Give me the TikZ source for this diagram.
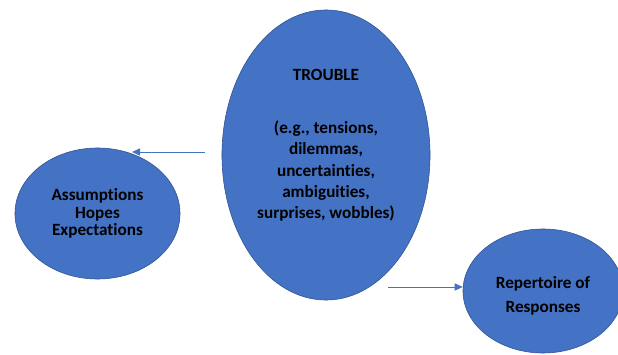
\documentclass[tikz,border=0pt]{standalone}
\usepackage{fontspec}
\setmainfont{Carlito}[Ligatures=NoCommon]
\usetikzlibrary{arrows.meta,shapes.geometric}
\definecolor{bubblefill}{HTML}{4472C4}
\definecolor{bubbleline}{HTML}{2F528F}
\begin{document}
\begin{tikzpicture}[x=0.025cm,y=0.025cm,
  bubble/.style={ellipse,draw=bubbleline,line width=0.4pt,fill=bubblefill,
    align=center,inner sep=0pt,text=black},
  flow/.style={-{Triangle[length=2mm,width=1.8mm]},draw=bubblefill,line width=0.6pt}]
\useasboundingbox (0,0) rectangle (618,355);
\node[bubble,minimum width=5.2cm,minimum height=7.25cm,
  font=\fontsize{12.2}{15.25}\selectfont\bfseries] (trouble) at (326,200)
  {TROUBLE\\[22pt](e.g., tensions,\\dilemmas,\\uncertainties,\\ambiguities,\\
   surprises, wobbles)\\[0pt]\mbox{}};
\node[bubble,minimum width=4.125cm,minimum height=3.275cm,
  font=\fontsize{12.2}{12.4}\selectfont\bfseries] (assume) at (97.5,141.5)
  {Assumptions\\Hopes\\Expectations};
\node[bubble,minimum width=4cm,minimum height=3.1cm,
  font=\fontsize{12.2}{17.7}\selectfont\bfseries] (repertoire) at (543,64)
  {\mbox{}\\[-2.2pt]Repertoire of\\Responses};
\coordinate (upstart) at (205,203);
\coordinate (downstart) at (388,68);
\draw[flow] (upstart) -- (upstart -| assume.60);
\draw[flow] (downstart) -- (downstart -| repertoire.west);
\end{tikzpicture}
\end{document}
